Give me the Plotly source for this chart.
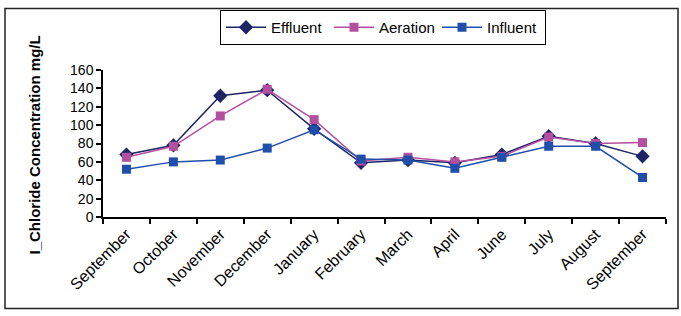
import plotly.graph_objects as go

months = ["September", "October", "November", "December", "January", "February",
          "March", "April", "June", "July", "August", "September"]
effluent = [68, 78, 132, 138, 96, 59, 62, 59, 68, 88, 80, 66]
aeration = [65, 77, 110, 139, 106, 61, 65, 60, 66, 87, 80, 81]
influent = [52, 60, 62, 75, 95, 63, 62, 53, 65, 77, 77, 43]
y_ticks = [0, 20, 40, 60, 80, 100, 120, 140, 160]

x = list(range(len(months)))

W, H = 681, 316
L, R, T, B = 103, 15, 69, 99
pw, ph = W - L - R, H - T - B

def px_x(p):
    return (p - L) / pw

def px_y(p):
    return (H - B - p) / ph

fig = go.Figure()
fig.add_trace(go.Scatter(x=x, y=effluent, name="Effluent", mode="lines+markers",
                         line=dict(color="#1E2464", width=1.5),
                         marker=dict(symbol="diamond", size=11, color="#1E2464")))
fig.add_trace(go.Scatter(x=x, y=aeration, name="Aeration", mode="lines+markers",
                         line=dict(color="#B450A0", width=1.5),
                         marker=dict(symbol="square", size=9, color="#B450A0")))
fig.add_trace(go.Scatter(x=x, y=influent, name="Influent", mode="lines+markers",
                         line=dict(color="#1F4FAA", width=1.5),
                         marker=dict(symbol="square", size=9, color="#1F4FAA")))

font_family = "Liberation Sans, Arial, sans-serif"

fig.update_layout(
    width=W, height=H,
    margin=dict(l=L, r=R, t=T, b=B),
    paper_bgcolor="white", plot_bgcolor="white",
    font=dict(family=font_family, size=14, color="black"),
    showlegend=True,
    legend=dict(orientation="h", x=px_x(383), xanchor="center", y=px_y(10), yanchor="top",
                bordercolor="black", borderwidth=1, bgcolor="white",
                font=dict(size=15, family=font_family, color="black"),
                itemwidth=40, entrywidth=53, entrywidthmode="pixels",
                tracegroupgap=0),
    xaxis=dict(range=[-0.5, 11.5], tickmode="array", tickvals=x, ticktext=months,
               tickangle=-45, ticks="", showline=True, linecolor="black", linewidth=1.5,
               showgrid=False, zeroline=False, tickfont=dict(size=16),
               minor=dict(tickmode="array", tickvals=[i - 0.5 for i in range(13)],
                          ticks="outside", ticklen=5, tickcolor="black", tickwidth=1.5,
                          showgrid=False)),
    yaxis=dict(range=[0, 160], tickmode="array", tickvals=y_ticks, ticks="outside",
               ticklen=5, tickcolor="black", tickwidth=1.5, showline=True,
               linecolor="black", linewidth=1.5,
               showgrid=False, zeroline=False, tickfont=dict(size=14)),
)

fig.add_annotation(text="<b>I_Chloride Concentration mg/L</b>", textangle=-90,
                   xref="paper", yref="paper", x=px_x(34), y=px_y(145),
                   xanchor="center", yanchor="middle",
                   showarrow=False, font=dict(size=15, family=font_family, color="black"))

fig.add_shape(type="rect", xref="paper", yref="paper",
              x0=px_x(5), x1=px_x(678), y0=px_y(309), y1=px_y(7),
              line=dict(color="#222222", width=1.5), fillcolor="rgba(0,0,0,0)", layer="below")

fig.write_html("out.html", config={"displayModeBar": False},
               post_script="document.body.style.margin='0';document.body.style.overflow='hidden';")
